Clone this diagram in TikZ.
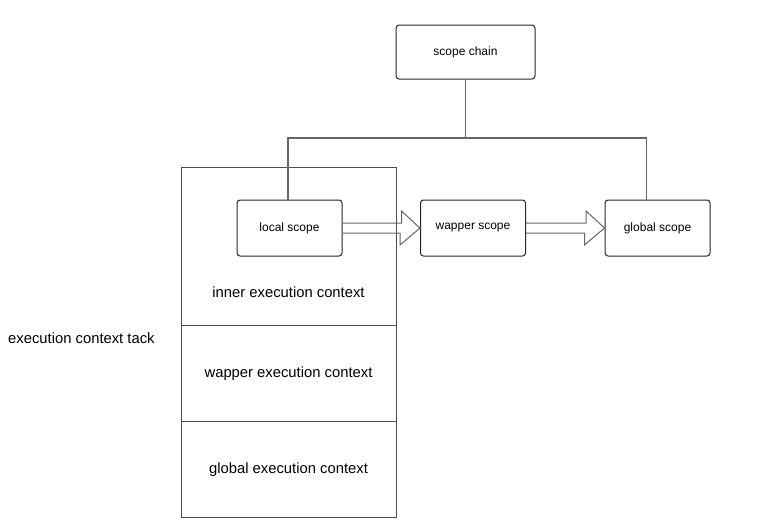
\documentclass[tikz,border=0pt]{standalone}
\usepackage{fontspec}
\setmainfont{Liberation Sans}
\usetikzlibrary{calc}
\begin{document}
\begin{tikzpicture}[x=1pt,y=-1pt,
  sbox/.style={draw=black!85, line width=1pt, rounded corners=3pt, minimum width=105pt, minimum height=56pt, font=\fontsize{12}{14}\selectfont},
  stackbox/.style={draw=black!70, line width=1pt, minimum width=215pt},
  conn/.style={draw=black!60, line width=1.2pt},
  big/.style={font=\fontsize{14.8}{17}\selectfont},
  fatarrow/.style={draw=black!60, line width=1pt, line join=miter}]
\useasboundingbox (0,0) rectangle (783,528);
% stack
\node[stackbox, minimum height=158pt] (inner) at (288.5,246) {};
\node[stackbox, minimum height=96pt] (wapctx) at (288.5,373) {};
\node[stackbox, minimum height=96pt] (globctx) at (288.5,469) {};
\node[big] (innerlbl) at (288.5,292) {inner execution context};
\node[big] (waplbl) at ($(wapctx)+(0,1)$) {wapper execution context};
\node[big] (globlbl) at ($(globctx)+(0,1)$) {global execution context};
\node[big, anchor=west, inner sep=0pt] (tack) at (8,338) {execution context tack};
% scope boxes
\node[sbox, minimum width=139pt, minimum height=54pt] (chain) at (465.5,52) {scope chain};
\node[sbox] (loc) at (289.5,228) {local scope};
\node[sbox] (wap) at (473,228) {wapper scope};
\node[sbox] (glob) at (657.5,228) {global scope};
% tree connectors
\coordinate (j) at (465.5,138);
\draw[conn] (chain.south) -- (j);
\draw[conn] (j) -| ($(loc.north)+(-1.5,0)$);
\draw[conn] (j) -| ($(glob.north west)+(42,0)$);
% fat arrows
\draw[fatarrow] (loc.east) ++(0,-5) -- ++(59,0) -- ++(0,-12) -- (wap.west) -- ++(-20,17) -- ++(0,-12) -- ($(loc.east)+(0,5)$);
\draw[fatarrow] (wap.east) ++(0,-5) -- ++(60,0) -- ++(0,-12) -- (glob.west) -- ++(-20,17) -- ++(0,-12) -- ($(wap.east)+(0,5)$);
\end{tikzpicture}
\end{document}
